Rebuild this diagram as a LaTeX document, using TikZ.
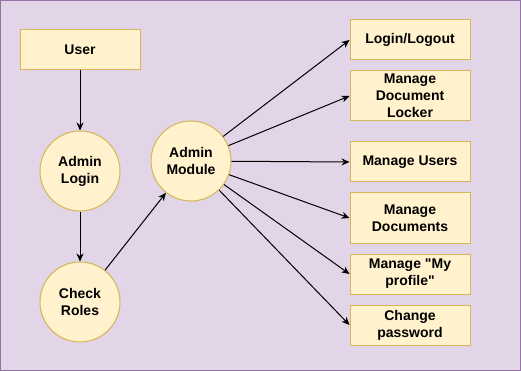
\documentclass[tikz,border=0pt]{standalone}
\usepackage{fontspec}
\setmainfont{Liberation Sans}
\usepackage{xcolor}
\usepackage{tikz}
\usetikzlibrary{arrows.meta, positioning, shapes.geometric}

\definecolor{bgfill}{HTML}{E1D5E7}
\definecolor{bgline}{HTML}{9673A6}
\definecolor{nodefill}{HTML}{FFF2CC}
\definecolor{nodeline}{HTML}{D6B656}

\begin{document}
\begin{tikzpicture}[x=1pt, y=-1pt, >={Stealth[length=8pt,width=7pt]},
        every node/.style={font=\fontsize{14}{17}\selectfont\bfseries},
        box/.style={rectangle, draw=nodeline, fill=nodefill, line width=1pt, minimum width=120pt, minimum height=40pt, align=center, inner sep=0pt},
        tallbox/.style={box, minimum height=50pt},
        proc/.style={circle, draw=nodeline, fill=nodefill, line width=1pt, minimum size=80pt, align=center, inner sep=0pt},
        link/.style={->, line width=1pt}]

        \useasboundingbox (0,0) rectangle (521,371);
        \draw[bgline, fill=bgfill, line width=1pt] (0.5,0.5) rectangle (520.5,370.5);

        \node (user) [box] at (80,50) {User};
        \node (login) [proc, below=60pt of user] {Admin\\Login};
        \node (roles) [proc, below=50pt of login] {Check\\Roles};
        \node (module) [proc, right=30pt of login, yshift=10pt] {Admin\\Module};

        \node (logout) [box] at (410,40) {Login/Logout};
        \node (locker) [tallbox, below=10pt of logout] {Manage\\Document\\Locker};
        \node (users) [box, below=20pt of locker] {Manage Users};
        \node (docs) [tallbox, below=10pt of users] {Manage\\Documents};
        \node (profile) [box, below=10pt of docs] {Manage \textquotedbl My\\profile\textquotedbl};
        \node (passwd) [box, below=10pt of profile] {Change\\password};

        \draw[link] (user) -- (login);
        \draw[link] (login) -- (roles);
        \draw[link] (roles) -- (module);
        \draw[link] (module) -- (logout.west);
        \draw[link] (module) -- (locker.west);
        \draw[link] (module) -- (users.west);
        \draw[link] (module) -- (docs.west);
        \draw[link] (module) -- (profile.west);
        \draw[link] (module) -- (passwd.west);
    \end{tikzpicture}
\end{document}
